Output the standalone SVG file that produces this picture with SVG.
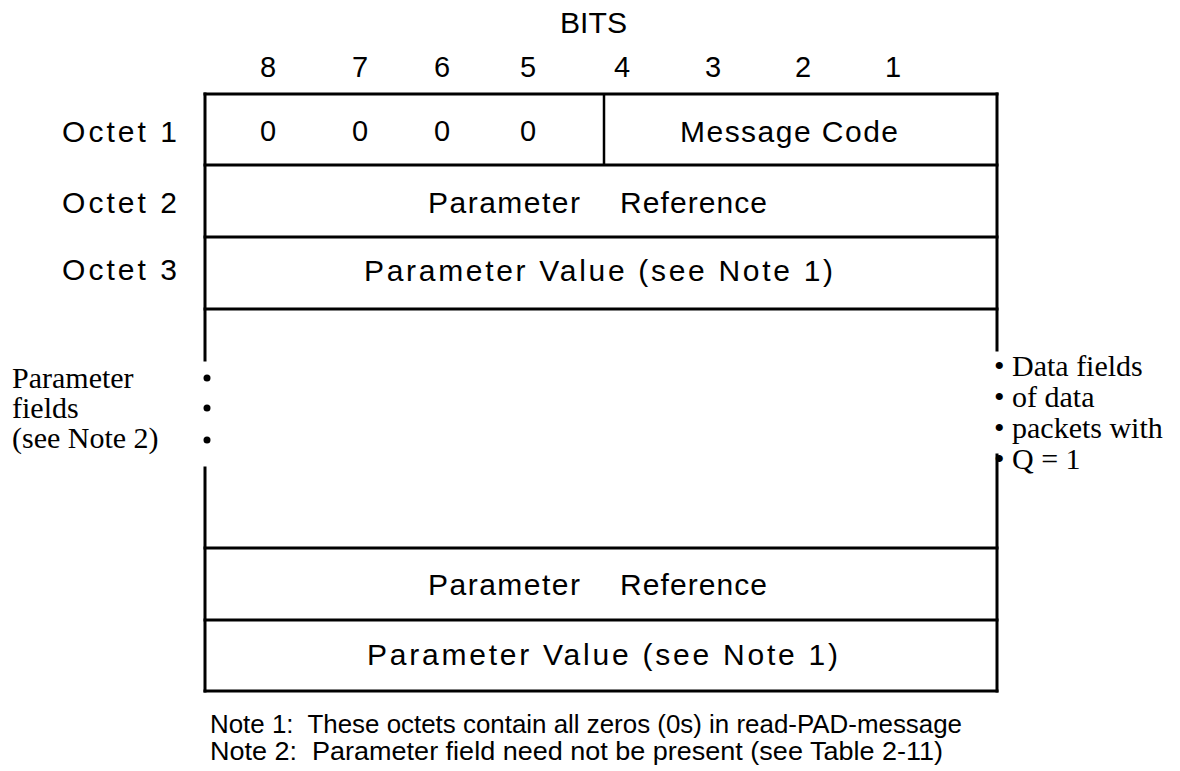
<svg xmlns="http://www.w3.org/2000/svg" width="1180" height="771" viewBox="0 0 1180 771">
<style>
.s{font-family:"Liberation Sans",Arial,sans-serif;fill:#000}
.f28{font-size:30px}
.dg{font-size:29px}
.serif{font-family:"Liberation Serif","Times New Roman",serif;font-size:30px;fill:#000}
.note{font-size:25px;white-space:pre}
.ln{stroke:#000;stroke-width:3;fill:none;stroke-linecap:square}
.dv{stroke:#000;stroke-width:2.5;fill:none}
</style>
<rect width="1180" height="771" fill="#fff"/>
<g id="header">
<text class="s dg" x="560" y="33" textLength="67" lengthAdjust="spacingAndGlyphs">BITS</text>
<g class="s dg" text-anchor="middle">
<text x="268" y="77">8</text><text x="360" y="77">7</text><text x="442" y="77">6</text><text x="528" y="77">5</text>
<text x="622" y="77">4</text><text x="713" y="77">3</text><text x="803" y="77">2</text><text x="893" y="77">1</text>
</g>
</g>
<g id="frame">
<path class="ln" d="M205,94 H997 M205,165 H997 M205,237 H997 M205,309 H997 M205,548 H997 M205,620 H997 M205,691 H997"/>
<path class="ln" d="M205,94 V360 M205,468 V691 M997,94 V350 M997,455 V691"/>
<path class="dv" d="M604,94 V165"/>
</g>
<g id="octet1">
<text class="s f28" x="62" y="142" textLength="115" lengthAdjust="spacing">Octet 1</text>
<g class="s dg" text-anchor="middle"><text x="268" y="141">0</text><text x="360" y="141">0</text><text x="442" y="141">0</text><text x="528" y="141">0</text></g>
<text class="s f28" x="680" y="142" textLength="218" lengthAdjust="spacing">Message Code</text>
</g>
<g id="octet2">
<text class="s f28" x="62" y="213" textLength="115" lengthAdjust="spacing">Octet 2</text>
<text class="s f28" x="428" y="213" textLength="152" lengthAdjust="spacing">Parameter</text>
<text class="s f28" x="620" y="213" textLength="147" lengthAdjust="spacing">Reference</text>
</g>
<g id="octet3">
<text class="s f28" x="62" y="280" textLength="115" lengthAdjust="spacing">Octet 3</text>
<text class="s f28" x="364" y="281" textLength="469" lengthAdjust="spacing">Parameter Value (see Note 1)</text>
</g>
<g id="param-fields">
<text class="serif" x="12" y="388">Parameter</text>
<text class="serif" x="12" y="418">fields</text>
<text class="serif" x="12" y="448">(see Note 2)</text>
<circle cx="207" cy="378" r="3.5"/><circle cx="207" cy="408" r="3.5"/><circle cx="207" cy="440" r="3.5"/>
</g>
<g id="data-fields">
<text class="serif" x="994" y="376">• Data fields</text>
<text class="serif" x="994" y="407">• of data</text>
<text class="serif" x="994" y="438">• packets with</text>
<text class="serif" x="994" y="469">• Q = 1</text>
</g>
<g id="last-ref">
<text class="s f28" x="428" y="595" textLength="152" lengthAdjust="spacing">Parameter</text>
<text class="s f28" x="620" y="595" textLength="147" lengthAdjust="spacing">Reference</text>
</g>
<g id="last-value">
<text class="s f28" x="367" y="665" textLength="471" lengthAdjust="spacing">Parameter Value (see Note 1)</text>
</g>
<g id="notes">
<text class="s note" x="210" y="733" textLength="752" lengthAdjust="spacingAndGlyphs">Note 1:  These octets contain all zeros (0s) in read-PAD-message</text>
<text class="s note" x="210" y="760" textLength="733" lengthAdjust="spacingAndGlyphs">Note 2:  Parameter field need not be present (see Table 2-11)</text>
</g>
</svg>
